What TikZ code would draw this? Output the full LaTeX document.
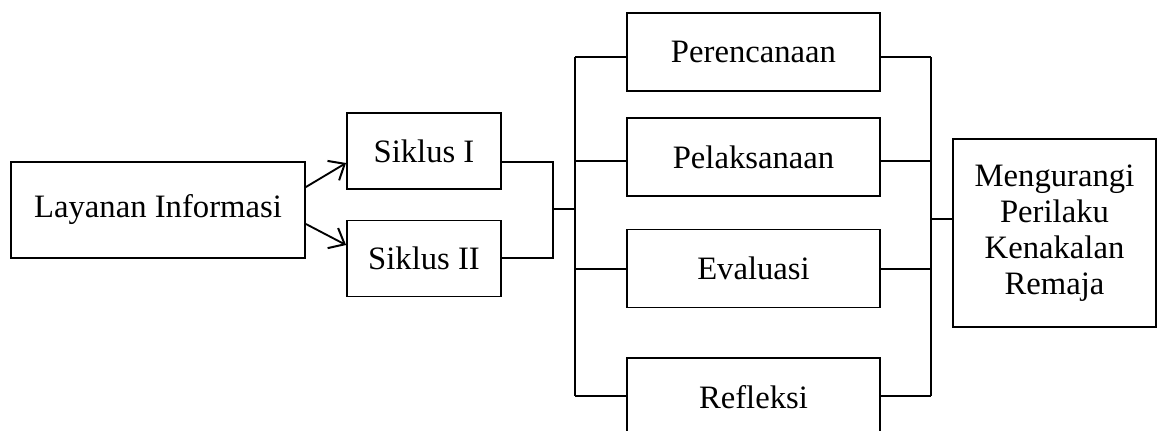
\documentclass[tikz,border=0pt]{standalone}
\usepackage{fontspec}
\setmainfont{Liberation Serif}
\usetikzlibrary{arrows.meta, positioning}

\begin{document}
\begin{tikzpicture}[x=0.75pt, y=-0.75pt, line width=1.4pt,
  kotak/.style={draw, rectangle, align=center, inner sep=2pt, font=\fontsize{24.5}{27}\selectfont},
  tahap/.style={kotak, minimum width=189.75pt, minimum height=58.5pt},
  siklus/.style={kotak, minimum width=115.5pt, minimum height=57pt},
  panah/.style={-{Straight Barb[length=10pt, width=17pt, line width=1.5pt]}}]
  \useasboundingbox (0,0) rectangle (1157,430);
  \clip (0,0) rectangle (1157,430);

  % Input
  \node[kotak, minimum width=220.5pt, minimum height=72pt] (layanan) at (158,210) {Layanan Informasi};

  % Cycles
  \node[siklus] (siklus1) at (424,151) {Siklus I};
  \node[siklus] (siklus2) at (424,258.5) {Siklus II};

  \draw[panah] (layanan.east |- 0,187) -- (siklus1.west |- 0,163);
  \draw[panah] (layanan.east |- 0,224) -- (siklus2.west |- 0,245);

  % Stages
  \node[tahap] (rencana) at (753.5,52) {Perencanaan};
  \node[tahap] (laksana) at (753.5,157) {Pelaksanaan};
  \node[tahap] (evaluasi) at (753.5,268.5) {Evaluasi};
  \node[tahap] (refleksi) at (753.5,397) {Refleksi};

  % Output
  \node[kotak, minimum width=152.25pt, minimum height=141pt] (hasil) at (1054.5,233) {Mengurangi\\Perilaku\\Kenakalan\\Remaja};

  % Bracket of the cycles
  \coordinate (j1) at (553,162);
  \coordinate (j2) at (553,258);
  \coordinate (jm) at (553,209);
  \coordinate (bus) at (575,209);
  \draw (siklus1.east |- j1) -- (j1) -- (j2) -- (siklus2.east |- j2);
  \draw (jm) -- (bus);

  % Buses left and right of the stages
  \coordinate (kiri-a) at (575,57);
  \coordinate (kiri-b) at (575,396);
  \coordinate (kanan-a) at (931,57);
  \coordinate (kanan-b) at (931,396);
  \draw (kiri-a) -- (kiri-b);
  \draw (kanan-a) -- (kanan-b);
  \foreach \n/\y in {rencana/57, laksana/161, evaluasi/269, refleksi/396} {
    \coordinate (kiri-\n) at (575,\y);
    \coordinate (kanan-\n) at (931,\y);
    \draw (kiri-\n) -- (\n.west |- kiri-\n);
    \draw (\n.east |- kanan-\n) -- (kanan-\n);
  }

  \coordinate (keluar) at (931,219);
  \draw (keluar) -- (hasil.west |- keluar);
\end{tikzpicture}
\end{document}
